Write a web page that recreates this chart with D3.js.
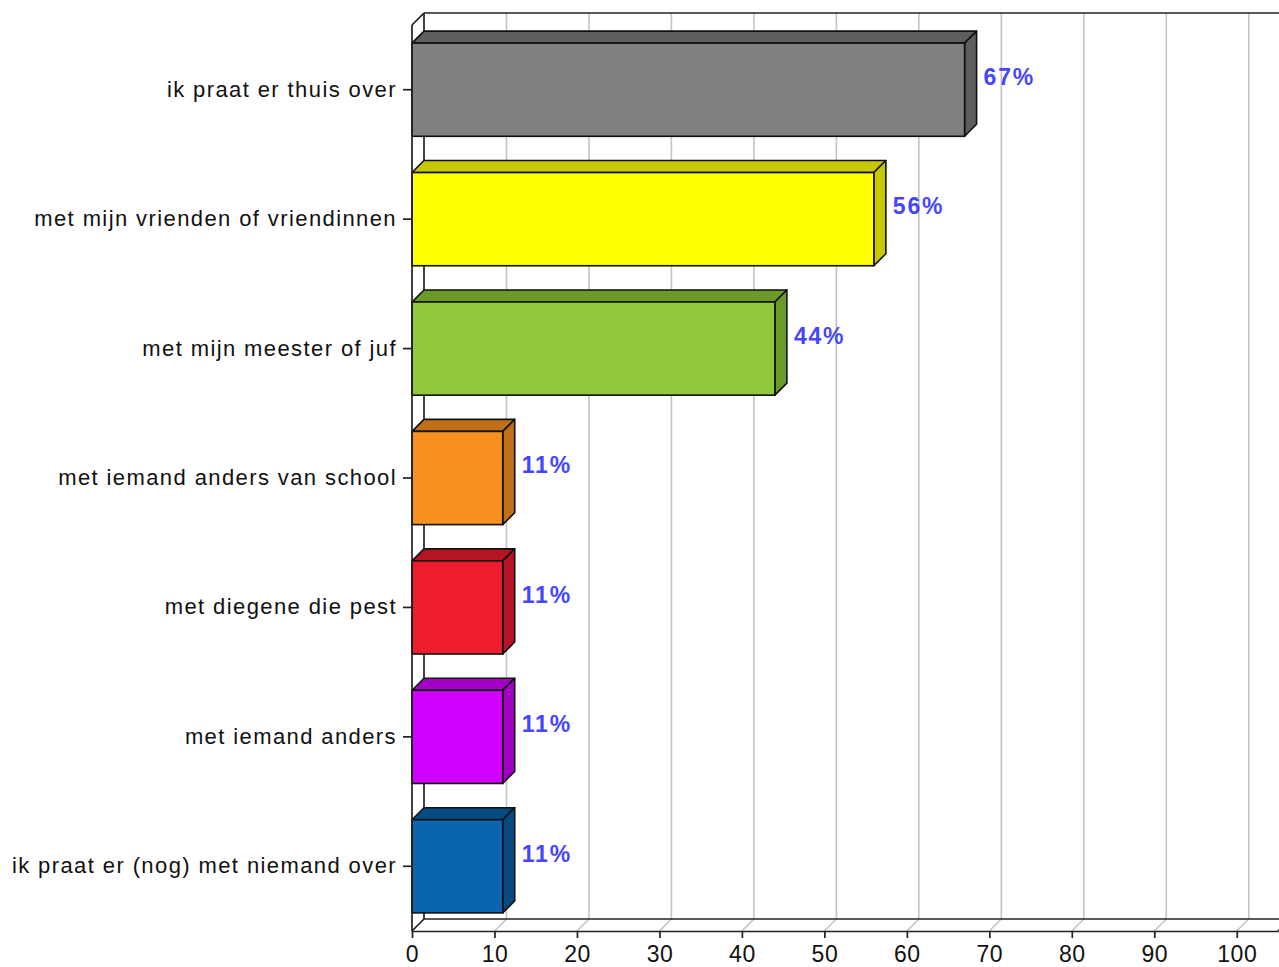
<!DOCTYPE html>
<html>
<head>
<meta charset="utf-8">
<script src="https://cdn.jsdelivr.net/npm/d3@7"></script>
<style>
  body { margin: 0; background: #fff; }
  svg { display: block; }
</style>
</head>
<body>
<div id="chart"></div>
<script>
// data
const categories = [
  "ik praat er thuis over",
  "met mijn vrienden of vriendinnen",
  "met mijn meester of juf",
  "met iemand anders van school",
  "met diegene die pest",
  "met iemand anders",
  "ik praat er (nog) met niemand over"
];
const values = [67, 56, 44, 11, 11, 11, 11];
const valueLabels = ["67%", "56%", "44%", "11%", "11%", "11%", "11%"];
const tickValues = [0, 10, 20, 30, 40, 50, 60, 70, 80, 90, 100];

const frontColors = ["#808080", "#ffff00", "#92c83e", "#f7901e", "#ed1c2e", "#d200ff", "#0b64ae"];
const sideColors  = ["#5e5e5e", "#c8c800", "#6b9a2a", "#c06f17", "#b51522", "#a000c4", "#064a82"];

const WIDTH = 1279;
const HEIGHT = 967;
const DEPTH = 12;  // 3d offset
const plot = { left: 412, right: 1278, top: 25, bottom: 931 };

const svg = d3.select("#chart").append("svg")
  .attr("width", WIDTH)
  .attr("height", HEIGHT);

const x = d3.scaleLinear()
  .domain([0, 105])
  .range([plot.left, plot.right]);

const y = d3.scaleBand()
  .domain(categories)
  .range([plot.top, plot.bottom])
  .paddingInner(0.28)
  .paddingOuter(0.14);

// back wall grid lines + floor diagonals
const grid = svg.append("g").attr("class", "grid");
grid.selectAll("line.back")
  .data(tickValues.slice(1))
  .enter().append("line")
    .attr("x1", d => x(d) + DEPTH).attr("x2", d => x(d) + DEPTH)
    .attr("y1", plot.top - DEPTH).attr("y2", plot.bottom - DEPTH)
    .attr("stroke", "#c4c4c4").attr("stroke-width", 1.6);
grid.selectAll("line.floor")
  .data(tickValues.slice(1))
  .enter().append("line")
    .attr("x1", d => x(d)).attr("x2", d => x(d) + DEPTH)
    .attr("y1", plot.bottom).attr("y2", plot.bottom - DEPTH)
    .attr("stroke", "#c4c4c4").attr("stroke-width", 1.6);

// frame of the 3d box
const frame = svg.append("g").attr("class", "frame")
  .attr("stroke", "#222").attr("stroke-width", 1.7).attr("fill", "none");
frame.append("line") // back top
  .attr("x1", plot.left + DEPTH).attr("x2", WIDTH + 20)
  .attr("y1", plot.top - DEPTH).attr("y2", plot.top - DEPTH);
frame.append("line") // back left
  .attr("x1", plot.left + DEPTH).attr("x2", plot.left + DEPTH)
  .attr("y1", plot.top - DEPTH).attr("y2", plot.bottom - DEPTH);
frame.append("line") // back floor
  .attr("x1", plot.left + DEPTH).attr("x2", WIDTH + 20)
  .attr("y1", plot.bottom - DEPTH).attr("y2", plot.bottom - DEPTH);
frame.append("line") // top diagonal
  .attr("x1", plot.left).attr("x2", plot.left + DEPTH)
  .attr("y1", plot.top).attr("y2", plot.top - DEPTH);
frame.append("line") // bottom diagonal
  .attr("x1", plot.left).attr("x2", plot.left + DEPTH)
  .attr("y1", plot.bottom).attr("y2", plot.bottom - DEPTH);
frame.append("line") // right diagonal
  .attr("x1", plot.right).attr("x2", plot.right + DEPTH)
  .attr("y1", plot.bottom).attr("y2", plot.bottom - DEPTH);

// bars
const bars = svg.append("g").attr("class", "bars")
  .selectAll("g")
  .data(categories)
  .enter().append("g");

bars.append("polygon") // top face
  .attr("points", (d, i) => {
    const t = y(d), x0 = x(0), x1 = x(values[i]);
    return [[x0, t], [x0 + DEPTH, t - DEPTH], [x1 + DEPTH, t - DEPTH], [x1, t]].join(" ");
  })
  .attr("fill", (d, i) => sideColors[i])
  .attr("stroke", "#111").attr("stroke-width", 1.6).attr("stroke-linejoin", "round");

bars.append("polygon") // side face
  .attr("points", (d, i) => {
    const t = y(d), b = y(d) + y.bandwidth(), x1 = x(values[i]);
    return [[x1, t], [x1 + DEPTH, t - DEPTH], [x1 + DEPTH, b - DEPTH], [x1, b]].join(" ");
  })
  .attr("fill", (d, i) => sideColors[i])
  .attr("stroke", "#111").attr("stroke-width", 1.6).attr("stroke-linejoin", "round");

bars.append("rect") // front face
  .attr("x", x(0))
  .attr("y", d => y(d))
  .attr("width", (d, i) => x(values[i]) - x(0))
  .attr("height", y.bandwidth())
  .attr("fill", (d, i) => frontColors[i])
  .attr("stroke", "#111").attr("stroke-width", 1.6);

bars.append("text")
  .attr("x", (d, i) => x(values[i]) + DEPTH + 7)
  .attr("y", d => y(d) + y.bandwidth() / 2 - DEPTH - 1)
  .attr("dy", "0.36em")
  .attr("fill", "#4646ff")
  .attr("font-family", "Liberation Sans, Arial, sans-serif")
  .attr("font-weight", "bold")
  .attr("font-size", 23)
  .attr("letter-spacing", 1.8)
  .text((d, i) => valueLabels[i]);

// left (category) axis
const yAxis = svg.append("g")
  .attr("transform", `translate(${plot.left},0)`)
  .call(d3.axisLeft(y).tickSize(9).tickPadding(6));
yAxis.select(".domain").remove();
yAxis.selectAll(".tick line").attr("stroke", "#222").attr("stroke-width", 1.7);
yAxis.selectAll("text")
  .attr("fill", "#111")
  .attr("font-family", "Liberation Sans, Arial, sans-serif")
  .attr("font-size", 22)
  .attr("letter-spacing", 1.4);
yAxis.append("line")
  .attr("x1", 0).attr("x2", 0)
  .attr("y1", plot.top).attr("y2", plot.bottom)
  .attr("stroke", "#222").attr("stroke-width", 1.7);

// bottom (value) axis
const xAxis = svg.append("g")
  .attr("transform", `translate(0,${plot.bottom})`)
  .call(d3.axisBottom(x).tickValues(tickValues).tickSize(7).tickPadding(8).tickSizeOuter(0));
xAxis.select(".domain").attr("stroke", "#222").attr("stroke-width", 1.7);
xAxis.selectAll(".tick line").attr("stroke", "#222").attr("stroke-width", 1.7);
xAxis.selectAll("text")
  .attr("fill", "#111")
  .attr("font-family", "Liberation Sans, Arial, sans-serif")
  .attr("font-size", 23)
  .attr("letter-spacing", 0.5);
</script>
</body>
</html>
